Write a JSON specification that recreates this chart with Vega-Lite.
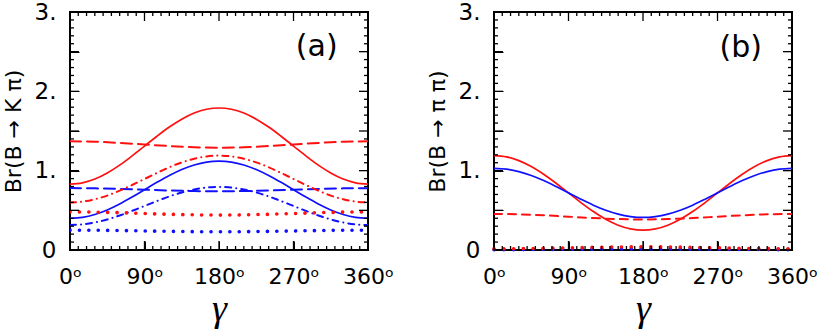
{
  "$schema": "https://vega.github.io/schema/vega-lite/v6.json",
  "padding": {"left": 1, "top": 0, "right": 0, "bottom": 0},
  "background": "white",
  "spacing": 30,
  "config": {
    "view": {"stroke": "black", "strokeWidth": 2},
    "axis": {"domain": false, "grid": false, "ticks": true, "tickColor": "#000000", "tickOpacity": 1, "tickWidth": 1, "labelColor": "black", "titleColor": "black", "labelOverlap": false},
    "text": {"font": "DejaVu Sans"}
  },
  "datasets": {
    "xmajor": [{"v":0},{"v":90},{"v":180},{"v":270},{"v":360}],
    "xminor": [{"v":10},{"v":20},{"v":30},{"v":40},{"v":50},{"v":60},{"v":70},{"v":80},{"v":100},{"v":110},{"v":120},{"v":130},{"v":140},{"v":150},{"v":160},{"v":170},{"v":190},{"v":200},{"v":210},{"v":220},{"v":230},{"v":240},{"v":250},{"v":260},{"v":280},{"v":290},{"v":300},{"v":310},{"v":320},{"v":330},{"v":340},{"v":350}],
    "ymajor": [{"v":0},{"v":0.5},{"v":1},{"v":1.5},{"v":2},{"v":2.5},{"v":3}],
    "yminor": [{"v":0.1},{"v":0.2},{"v":0.3},{"v":0.4},{"v":0.6},{"v":0.7},{"v":0.8},{"v":0.9},{"v":1.1},{"v":1.2},{"v":1.3},{"v":1.4},{"v":1.6},{"v":1.7},{"v":1.8},{"v":1.9},{"v":2.1},{"v":2.2},{"v":2.3},{"v":2.4},{"v":2.6},{"v":2.7},{"v":2.8},{"v":2.9}],
    "curves": [
      {"panel":"a","grp":"set1","curve":"c1","gamma":0,"br":0.83},{"panel":"a","grp":"set1","curve":"c1","gamma":15,"br":0.846},{"panel":"a","grp":"set1","curve":"c1","gamma":30,"br":0.894},{"panel":"a","grp":"set1","curve":"c1","gamma":45,"br":0.971},{"panel":"a","grp":"set1","curve":"c1","gamma":60,"br":1.07},{"panel":"a","grp":"set1","curve":"c1","gamma":75,"br":1.186},{"panel":"a","grp":"set1","curve":"c1","gamma":90,"br":1.31},{"panel":"a","grp":"set1","curve":"c1","gamma":105,"br":1.434},{"panel":"a","grp":"set1","curve":"c1","gamma":120,"br":1.55},{"panel":"a","grp":"set1","curve":"c1","gamma":135,"br":1.649},{"panel":"a","grp":"set1","curve":"c1","gamma":150,"br":1.726},{"panel":"a","grp":"set1","curve":"c1","gamma":165,"br":1.774},{"panel":"a","grp":"set1","curve":"c1","gamma":180,"br":1.79},{"panel":"a","grp":"set1","curve":"c1","gamma":195,"br":1.774},{"panel":"a","grp":"set1","curve":"c1","gamma":210,"br":1.726},{"panel":"a","grp":"set1","curve":"c1","gamma":225,"br":1.649},{"panel":"a","grp":"set1","curve":"c1","gamma":240,"br":1.55},{"panel":"a","grp":"set1","curve":"c1","gamma":255,"br":1.434},{"panel":"a","grp":"set1","curve":"c1","gamma":270,"br":1.31},{"panel":"a","grp":"set1","curve":"c1","gamma":285,"br":1.186},{"panel":"a","grp":"set1","curve":"c1","gamma":300,"br":1.07},{"panel":"a","grp":"set1","curve":"c1","gamma":315,"br":0.971},{"panel":"a","grp":"set1","curve":"c1","gamma":330,"br":0.894},{"panel":"a","grp":"set1","curve":"c1","gamma":345,"br":0.846},{"panel":"a","grp":"set1","curve":"c1","gamma":360,"br":0.83},

      {"panel":"a","grp":"set1","curve":"c3","gamma":0,"br":0.6},{"panel":"a","grp":"set1","curve":"c3","gamma":15,"br":0.61},{"panel":"a","grp":"set1","curve":"c3","gamma":30,"br":0.64},{"panel":"a","grp":"set1","curve":"c3","gamma":45,"br":0.686},{"panel":"a","grp":"set1","curve":"c3","gamma":60,"br":0.748},{"panel":"a","grp":"set1","curve":"c3","gamma":75,"br":0.819},{"panel":"a","grp":"set1","curve":"c3","gamma":90,"br":0.895},{"panel":"a","grp":"set1","curve":"c3","gamma":105,"br":0.971},{"panel":"a","grp":"set1","curve":"c3","gamma":120,"br":1.043},{"panel":"a","grp":"set1","curve":"c3","gamma":135,"br":1.104},{"panel":"a","grp":"set1","curve":"c3","gamma":150,"br":1.15},{"panel":"a","grp":"set1","curve":"c3","gamma":165,"br":1.18},{"panel":"a","grp":"set1","curve":"c3","gamma":180,"br":1.19},{"panel":"a","grp":"set1","curve":"c3","gamma":195,"br":1.18},{"panel":"a","grp":"set1","curve":"c3","gamma":210,"br":1.15},{"panel":"a","grp":"set1","curve":"c3","gamma":225,"br":1.104},{"panel":"a","grp":"set1","curve":"c3","gamma":240,"br":1.043},{"panel":"a","grp":"set1","curve":"c3","gamma":255,"br":0.971},{"panel":"a","grp":"set1","curve":"c3","gamma":270,"br":0.895},{"panel":"a","grp":"set1","curve":"c3","gamma":285,"br":0.819},{"panel":"a","grp":"set1","curve":"c3","gamma":300,"br":0.748},{"panel":"a","grp":"set1","curve":"c3","gamma":315,"br":0.686},{"panel":"a","grp":"set1","curve":"c3","gamma":330,"br":0.64},{"panel":"a","grp":"set1","curve":"c3","gamma":345,"br":0.61},{"panel":"a","grp":"set1","curve":"c3","gamma":360,"br":0.6},

      {"panel":"a","grp":"set2","curve":"c1","gamma":0,"br":0.4},{"panel":"a","grp":"set2","curve":"c1","gamma":15,"br":0.412},{"panel":"a","grp":"set2","curve":"c1","gamma":30,"br":0.448},{"panel":"a","grp":"set2","curve":"c1","gamma":45,"br":0.505},{"panel":"a","grp":"set2","curve":"c1","gamma":60,"br":0.58},{"panel":"a","grp":"set2","curve":"c1","gamma":75,"br":0.667},{"panel":"a","grp":"set2","curve":"c1","gamma":90,"br":0.76},{"panel":"a","grp":"set2","curve":"c1","gamma":105,"br":0.853},{"panel":"a","grp":"set2","curve":"c1","gamma":120,"br":0.94},{"panel":"a","grp":"set2","curve":"c1","gamma":135,"br":1.015},{"panel":"a","grp":"set2","curve":"c1","gamma":150,"br":1.072},{"panel":"a","grp":"set2","curve":"c1","gamma":165,"br":1.108},{"panel":"a","grp":"set2","curve":"c1","gamma":180,"br":1.12},{"panel":"a","grp":"set2","curve":"c1","gamma":195,"br":1.108},{"panel":"a","grp":"set2","curve":"c1","gamma":210,"br":1.072},{"panel":"a","grp":"set2","curve":"c1","gamma":225,"br":1.015},{"panel":"a","grp":"set2","curve":"c1","gamma":240,"br":0.94},{"panel":"a","grp":"set2","curve":"c1","gamma":255,"br":0.853},{"panel":"a","grp":"set2","curve":"c1","gamma":270,"br":0.76},{"panel":"a","grp":"set2","curve":"c1","gamma":285,"br":0.667},{"panel":"a","grp":"set2","curve":"c1","gamma":300,"br":0.58},{"panel":"a","grp":"set2","curve":"c1","gamma":315,"br":0.505},{"panel":"a","grp":"set2","curve":"c1","gamma":330,"br":0.448},{"panel":"a","grp":"set2","curve":"c1","gamma":345,"br":0.412},{"panel":"a","grp":"set2","curve":"c1","gamma":360,"br":0.4},

      {"panel":"a","grp":"set2","curve":"c3","gamma":0,"br":0.315},{"panel":"a","grp":"set2","curve":"c3","gamma":15,"br":0.323},{"panel":"a","grp":"set2","curve":"c3","gamma":30,"br":0.347},{"panel":"a","grp":"set2","curve":"c3","gamma":45,"br":0.385},{"panel":"a","grp":"set2","curve":"c3","gamma":60,"br":0.435},{"panel":"a","grp":"set2","curve":"c3","gamma":75,"br":0.493},{"panel":"a","grp":"set2","curve":"c3","gamma":90,"br":0.555},{"panel":"a","grp":"set2","curve":"c3","gamma":105,"br":0.617},{"panel":"a","grp":"set2","curve":"c3","gamma":120,"br":0.675},{"panel":"a","grp":"set2","curve":"c3","gamma":135,"br":0.725},{"panel":"a","grp":"set2","curve":"c3","gamma":150,"br":0.763},{"panel":"a","grp":"set2","curve":"c3","gamma":165,"br":0.787},{"panel":"a","grp":"set2","curve":"c3","gamma":180,"br":0.795},{"panel":"a","grp":"set2","curve":"c3","gamma":195,"br":0.787},{"panel":"a","grp":"set2","curve":"c3","gamma":210,"br":0.763},{"panel":"a","grp":"set2","curve":"c3","gamma":225,"br":0.725},{"panel":"a","grp":"set2","curve":"c3","gamma":240,"br":0.675},{"panel":"a","grp":"set2","curve":"c3","gamma":255,"br":0.617},{"panel":"a","grp":"set2","curve":"c3","gamma":270,"br":0.555},{"panel":"a","grp":"set2","curve":"c3","gamma":285,"br":0.493},{"panel":"a","grp":"set2","curve":"c3","gamma":300,"br":0.435},{"panel":"a","grp":"set2","curve":"c3","gamma":315,"br":0.385},{"panel":"a","grp":"set2","curve":"c3","gamma":330,"br":0.347},{"panel":"a","grp":"set2","curve":"c3","gamma":345,"br":0.323},{"panel":"a","grp":"set2","curve":"c3","gamma":360,"br":0.315},

      {"panel":"a","grp":"set1","curve":"c2","gamma":0,"br":1.37},{"panel":"a","grp":"set1","curve":"c2","gamma":30,"br":1.365},{"panel":"a","grp":"set1","curve":"c2","gamma":60,"br":1.35},{"panel":"a","grp":"set1","curve":"c2","gamma":90,"br":1.33},{"panel":"a","grp":"set1","curve":"c2","gamma":120,"br":1.31},{"panel":"a","grp":"set1","curve":"c2","gamma":150,"br":1.295},{"panel":"a","grp":"set1","curve":"c2","gamma":180,"br":1.29},{"panel":"a","grp":"set1","curve":"c2","gamma":210,"br":1.295},{"panel":"a","grp":"set1","curve":"c2","gamma":240,"br":1.31},{"panel":"a","grp":"set1","curve":"c2","gamma":270,"br":1.33},{"panel":"a","grp":"set1","curve":"c2","gamma":300,"br":1.35},{"panel":"a","grp":"set1","curve":"c2","gamma":330,"br":1.365},{"panel":"a","grp":"set1","curve":"c2","gamma":360,"br":1.37},

      {"panel":"a","grp":"set1","curve":"c4","gamma":0,"br":0.48},{"panel":"a","grp":"set1","curve":"c4","gamma":30,"br":0.477},{"panel":"a","grp":"set1","curve":"c4","gamma":60,"br":0.47},{"panel":"a","grp":"set1","curve":"c4","gamma":90,"br":0.46},{"panel":"a","grp":"set1","curve":"c4","gamma":120,"br":0.45},{"panel":"a","grp":"set1","curve":"c4","gamma":150,"br":0.443},{"panel":"a","grp":"set1","curve":"c4","gamma":180,"br":0.44},{"panel":"a","grp":"set1","curve":"c4","gamma":210,"br":0.443},{"panel":"a","grp":"set1","curve":"c4","gamma":240,"br":0.45},{"panel":"a","grp":"set1","curve":"c4","gamma":270,"br":0.46},{"panel":"a","grp":"set1","curve":"c4","gamma":300,"br":0.47},{"panel":"a","grp":"set1","curve":"c4","gamma":330,"br":0.477},{"panel":"a","grp":"set1","curve":"c4","gamma":360,"br":0.48},

      {"panel":"a","grp":"set2","curve":"c2","gamma":0,"br":0.78},{"panel":"a","grp":"set2","curve":"c2","gamma":30,"br":0.777},{"panel":"a","grp":"set2","curve":"c2","gamma":60,"br":0.77},{"panel":"a","grp":"set2","curve":"c2","gamma":90,"br":0.76},{"panel":"a","grp":"set2","curve":"c2","gamma":120,"br":0.75},{"panel":"a","grp":"set2","curve":"c2","gamma":150,"br":0.743},{"panel":"a","grp":"set2","curve":"c2","gamma":180,"br":0.74},{"panel":"a","grp":"set2","curve":"c2","gamma":210,"br":0.743},{"panel":"a","grp":"set2","curve":"c2","gamma":240,"br":0.75},{"panel":"a","grp":"set2","curve":"c2","gamma":270,"br":0.76},{"panel":"a","grp":"set2","curve":"c2","gamma":300,"br":0.77},{"panel":"a","grp":"set2","curve":"c2","gamma":330,"br":0.777},{"panel":"a","grp":"set2","curve":"c2","gamma":360,"br":0.78},

      {"panel":"a","grp":"set2","curve":"c4","gamma":0,"br":0.25},{"panel":"a","grp":"set2","curve":"c4","gamma":30,"br":0.249},{"panel":"a","grp":"set2","curve":"c4","gamma":60,"br":0.245},{"panel":"a","grp":"set2","curve":"c4","gamma":90,"br":0.24},{"panel":"a","grp":"set2","curve":"c4","gamma":120,"br":0.235},{"panel":"a","grp":"set2","curve":"c4","gamma":150,"br":0.231},{"panel":"a","grp":"set2","curve":"c4","gamma":180,"br":0.23},{"panel":"a","grp":"set2","curve":"c4","gamma":210,"br":0.231},{"panel":"a","grp":"set2","curve":"c4","gamma":240,"br":0.235},{"panel":"a","grp":"set2","curve":"c4","gamma":270,"br":0.24},{"panel":"a","grp":"set2","curve":"c4","gamma":300,"br":0.245},{"panel":"a","grp":"set2","curve":"c4","gamma":330,"br":0.249},{"panel":"a","grp":"set2","curve":"c4","gamma":360,"br":0.25},

      {"panel":"b","grp":"set1","curve":"c1","gamma":0,"br":1.19},{"panel":"b","grp":"set1","curve":"c1","gamma":15,"br":1.174},{"panel":"b","grp":"set1","curve":"c1","gamma":30,"br":1.127},{"panel":"b","grp":"set1","curve":"c1","gamma":45,"br":1.052},{"panel":"b","grp":"set1","curve":"c1","gamma":60,"br":0.955},{"panel":"b","grp":"set1","curve":"c1","gamma":75,"br":0.842},{"panel":"b","grp":"set1","curve":"c1","gamma":90,"br":0.72},{"panel":"b","grp":"set1","curve":"c1","gamma":105,"br":0.598},{"panel":"b","grp":"set1","curve":"c1","gamma":120,"br":0.485},{"panel":"b","grp":"set1","curve":"c1","gamma":135,"br":0.388},{"panel":"b","grp":"set1","curve":"c1","gamma":150,"br":0.313},{"panel":"b","grp":"set1","curve":"c1","gamma":165,"br":0.266},{"panel":"b","grp":"set1","curve":"c1","gamma":180,"br":0.25},{"panel":"b","grp":"set1","curve":"c1","gamma":195,"br":0.266},{"panel":"b","grp":"set1","curve":"c1","gamma":210,"br":0.313},{"panel":"b","grp":"set1","curve":"c1","gamma":225,"br":0.388},{"panel":"b","grp":"set1","curve":"c1","gamma":240,"br":0.485},{"panel":"b","grp":"set1","curve":"c1","gamma":255,"br":0.598},{"panel":"b","grp":"set1","curve":"c1","gamma":270,"br":0.72},{"panel":"b","grp":"set1","curve":"c1","gamma":285,"br":0.842},{"panel":"b","grp":"set1","curve":"c1","gamma":300,"br":0.955},{"panel":"b","grp":"set1","curve":"c1","gamma":315,"br":1.052},{"panel":"b","grp":"set1","curve":"c1","gamma":330,"br":1.127},{"panel":"b","grp":"set1","curve":"c1","gamma":345,"br":1.174},{"panel":"b","grp":"set1","curve":"c1","gamma":360,"br":1.19},

      {"panel":"b","grp":"set2","curve":"c1","gamma":0,"br":1.03},{"panel":"b","grp":"set2","curve":"c1","gamma":15,"br":1.019},{"panel":"b","grp":"set2","curve":"c1","gamma":30,"br":0.988},{"panel":"b","grp":"set2","curve":"c1","gamma":45,"br":0.939},{"panel":"b","grp":"set2","curve":"c1","gamma":60,"br":0.875},{"panel":"b","grp":"set2","curve":"c1","gamma":75,"br":0.8},{"panel":"b","grp":"set2","curve":"c1","gamma":90,"br":0.72},{"panel":"b","grp":"set2","curve":"c1","gamma":105,"br":0.64},{"panel":"b","grp":"set2","curve":"c1","gamma":120,"br":0.565},{"panel":"b","grp":"set2","curve":"c1","gamma":135,"br":0.501},{"panel":"b","grp":"set2","curve":"c1","gamma":150,"br":0.452},{"panel":"b","grp":"set2","curve":"c1","gamma":165,"br":0.421},{"panel":"b","grp":"set2","curve":"c1","gamma":180,"br":0.41},{"panel":"b","grp":"set2","curve":"c1","gamma":195,"br":0.421},{"panel":"b","grp":"set2","curve":"c1","gamma":210,"br":0.452},{"panel":"b","grp":"set2","curve":"c1","gamma":225,"br":0.501},{"panel":"b","grp":"set2","curve":"c1","gamma":240,"br":0.565},{"panel":"b","grp":"set2","curve":"c1","gamma":255,"br":0.64},{"panel":"b","grp":"set2","curve":"c1","gamma":270,"br":0.72},{"panel":"b","grp":"set2","curve":"c1","gamma":285,"br":0.8},{"panel":"b","grp":"set2","curve":"c1","gamma":300,"br":0.875},{"panel":"b","grp":"set2","curve":"c1","gamma":315,"br":0.939},{"panel":"b","grp":"set2","curve":"c1","gamma":330,"br":0.988},{"panel":"b","grp":"set2","curve":"c1","gamma":345,"br":1.019},{"panel":"b","grp":"set2","curve":"c1","gamma":360,"br":1.03},

      {"panel":"b","grp":"set1","curve":"c2","gamma":0,"br":0.455},{"panel":"b","grp":"set1","curve":"c2","gamma":30,"br":0.45},{"panel":"b","grp":"set1","curve":"c2","gamma":60,"br":0.4375},{"panel":"b","grp":"set1","curve":"c2","gamma":90,"br":0.42},{"panel":"b","grp":"set1","curve":"c2","gamma":120,"br":0.4025},{"panel":"b","grp":"set1","curve":"c2","gamma":150,"br":0.39},{"panel":"b","grp":"set1","curve":"c2","gamma":180,"br":0.385},{"panel":"b","grp":"set1","curve":"c2","gamma":210,"br":0.39},{"panel":"b","grp":"set1","curve":"c2","gamma":240,"br":0.4025},{"panel":"b","grp":"set1","curve":"c2","gamma":270,"br":0.42},{"panel":"b","grp":"set1","curve":"c2","gamma":300,"br":0.4375},{"panel":"b","grp":"set1","curve":"c2","gamma":330,"br":0.45},{"panel":"b","grp":"set1","curve":"c2","gamma":360,"br":0.455},

      {"panel":"b","grp":"set2","curve":"c4","gamma":0,"br":0.004},{"panel":"b","grp":"set2","curve":"c4","gamma":30,"br":0.005},{"panel":"b","grp":"set2","curve":"c4","gamma":60,"br":0.007},{"panel":"b","grp":"set2","curve":"c4","gamma":90,"br":0.009},{"panel":"b","grp":"set2","curve":"c4","gamma":120,"br":0.011},{"panel":"b","grp":"set2","curve":"c4","gamma":150,"br":0.013},{"panel":"b","grp":"set2","curve":"c4","gamma":180,"br":0.014},{"panel":"b","grp":"set2","curve":"c4","gamma":210,"br":0.013},{"panel":"b","grp":"set2","curve":"c4","gamma":240,"br":0.011},{"panel":"b","grp":"set2","curve":"c4","gamma":270,"br":0.009},{"panel":"b","grp":"set2","curve":"c4","gamma":300,"br":0.007},{"panel":"b","grp":"set2","curve":"c4","gamma":330,"br":0.005},{"panel":"b","grp":"set2","curve":"c4","gamma":360,"br":0.004},

      {"panel":"b","grp":"set1","curve":"c4","gamma":0,"br":0.015},{"panel":"b","grp":"set1","curve":"c4","gamma":30,"br":0.017},{"panel":"b","grp":"set1","curve":"c4","gamma":60,"br":0.021},{"panel":"b","grp":"set1","curve":"c4","gamma":90,"br":0.027},{"panel":"b","grp":"set1","curve":"c4","gamma":120,"br":0.033},{"panel":"b","grp":"set1","curve":"c4","gamma":150,"br":0.038},{"panel":"b","grp":"set1","curve":"c4","gamma":180,"br":0.04},{"panel":"b","grp":"set1","curve":"c4","gamma":210,"br":0.038},{"panel":"b","grp":"set1","curve":"c4","gamma":240,"br":0.033},{"panel":"b","grp":"set1","curve":"c4","gamma":270,"br":0.027},{"panel":"b","grp":"set1","curve":"c4","gamma":300,"br":0.021},{"panel":"b","grp":"set1","curve":"c4","gamma":330,"br":0.017},{"panel":"b","grp":"set1","curve":"c4","gamma":360,"br":0.015}
    ]
  },
  "hconcat": [
    {
      "width": 298, "height": 238,
      "layer": [
        {
          "data": {"name": "curves"},
          "transform": [{"filter": "datum.panel == 'a' && datum.curve == 'c1'"}],
          "mark": {"type": "line", "interpolate": "monotone", "strokeWidth": 1.7, "clip": true},
          "encoding": {
            "x": {"field": "gamma", "type": "quantitative", "scale": {"domain": [0, 360], "nice": false, "zero": false},
              "axis": {"orient": "bottom", "values": [0, 90, 180, 270, 360], "labelExpr": "datum.value + 'ᵒ'", "ticks": true, "tickColor": "#000000", "offset": -9, "tickSize": 9, "labelPadding": 16, "labelFlush": false, "labelFont": "DejaVu Sans", "labelFontSize": 22, "title": "γ", "titleFont": "Liberation Serif", "titleFontStyle": "italic", "titleFontWeight": "normal", "titleFontSize": 38, "titlePadding": 3}},
            "y": {"field": "br", "type": "quantitative", "scale": {"domain": [0, 3], "nice": false, "zero": false},
              "axis": {"orient": "left", "values": [0, 0.5, 1, 1.5, 2, 2.5, 3], "labelExpr": "datum.value == 0 ? '0' : (datum.value % 1 == 0 ? datum.value + '.' : '')", "ticks": true, "tickColor": "#000000", "offset": -9, "tickSize": 9, "labelPadding": 14, "labelFont": "DejaVu Sans", "labelFontSize": 23, "title": "Br(B → K π)", "titleFont": "DejaVu Sans", "titleFontWeight": "normal", "titleFontSize": 22, "titlePadding": 9}},
            "color": {"field": "grp", "type": "nominal", "scale": {"domain": ["set1", "set2"], "range": ["#ff1010", "#1010ff"]}, "legend": null}
          }
        },
        {
          "data": {"name": "curves"},
          "transform": [{"filter": "datum.panel == 'a' && datum.curve == 'c2'"}],
          "mark": {"type": "line", "interpolate": "monotone", "strokeWidth": 2, "strokeDash": [11, 6], "strokeCap": "round", "clip": true},
          "encoding": {
            "x": {"field": "gamma", "type": "quantitative", "axis": null},
            "y": {"field": "br", "type": "quantitative", "axis": null},
            "color": {"field": "grp", "type": "nominal", "legend": null}
          }
        },
        {
          "data": {"name": "curves"},
          "transform": [{"filter": "datum.panel == 'a' && datum.curve == 'c3'"}],
          "mark": {"type": "line", "interpolate": "monotone", "strokeWidth": 2, "strokeDash": [6, 5, 0.1, 5], "strokeCap": "round", "clip": true},
          "encoding": {
            "x": {"field": "gamma", "type": "quantitative", "axis": null},
            "y": {"field": "br", "type": "quantitative", "axis": null},
            "color": {"field": "grp", "type": "nominal", "legend": null}
          }
        },
        {
          "data": {"name": "curves"},
          "transform": [{"filter": "datum.panel == 'a' && datum.curve == 'c4'"}],
          "mark": {"type": "line", "interpolate": "monotone", "strokeWidth": 3.6, "strokeDash": [0.1, 9.3], "strokeCap": "round", "clip": true},
          "encoding": {
            "x": {"field": "gamma", "type": "quantitative", "axis": null},
            "y": {"field": "br", "type": "quantitative", "axis": null},
            "color": {"field": "grp", "type": "nominal", "legend": null}
          }
        },
        {"data": {"name": "xmajor"}, "mark": {"type": "tick", "orient": "vertical", "size": 9, "thickness": 1.3, "yOffset": -4.5, "color": "black", "opacity": 1},
         "encoding": {"x": {"field": "v", "type": "quantitative", "axis": null}, "y": {"datum": 0, "type": "quantitative", "axis": null}}},
        {"data": {"name": "xmajor"}, "mark": {"type": "tick", "orient": "vertical", "size": 9, "thickness": 1.3, "yOffset": 4.5, "color": "black", "opacity": 1},
         "encoding": {"x": {"field": "v", "type": "quantitative", "axis": null}, "y": {"datum": 3, "type": "quantitative", "axis": null}}},
        {"data": {"name": "xminor"}, "mark": {"type": "tick", "orient": "vertical", "size": 4, "thickness": 1.3, "yOffset": -2, "color": "black", "opacity": 1},
         "encoding": {"x": {"field": "v", "type": "quantitative", "axis": null}, "y": {"datum": 0, "type": "quantitative", "axis": null}}},
        {"data": {"name": "xminor"}, "mark": {"type": "tick", "orient": "vertical", "size": 4, "thickness": 1.3, "yOffset": 2, "color": "black", "opacity": 1},
         "encoding": {"x": {"field": "v", "type": "quantitative", "axis": null}, "y": {"datum": 3, "type": "quantitative", "axis": null}}},
        {"data": {"name": "ymajor"}, "mark": {"type": "tick", "orient": "horizontal", "size": 9, "thickness": 1.3, "xOffset": 4.5, "color": "black", "opacity": 1},
         "encoding": {"y": {"field": "v", "type": "quantitative", "axis": null}, "x": {"datum": 0, "type": "quantitative", "axis": null}}},
        {"data": {"name": "ymajor"}, "mark": {"type": "tick", "orient": "horizontal", "size": 9, "thickness": 1.3, "xOffset": -4.5, "color": "black", "opacity": 1},
         "encoding": {"y": {"field": "v", "type": "quantitative", "axis": null}, "x": {"datum": 360, "type": "quantitative", "axis": null}}},
        {"data": {"name": "yminor"}, "mark": {"type": "tick", "orient": "horizontal", "size": 4, "thickness": 1.3, "xOffset": 2, "color": "black", "opacity": 1},
         "encoding": {"y": {"field": "v", "type": "quantitative", "axis": null}, "x": {"datum": 0, "type": "quantitative", "axis": null}}},
        {"data": {"name": "yminor"}, "mark": {"type": "tick", "orient": "horizontal", "size": 4, "thickness": 1.3, "xOffset": -2, "color": "black", "opacity": 1},
         "encoding": {"y": {"field": "v", "type": "quantitative", "axis": null}, "x": {"datum": 360, "type": "quantitative", "axis": null}}},
        {
          "data": {"values": [{"panel": "a"}]},
          "mark": {"type": "text", "font": "DejaVu Sans", "fontSize": 30, "align": "center", "baseline": "middle", "color": "black"},
          "encoding": {
            "x": {"datum": 298, "type": "quantitative", "axis": null},
            "y": {"datum": 2.56, "type": "quantitative", "axis": null},
            "text": {"value": "(a)"}
          }
        }
      ],
      "resolve": {"axis": {"x": "independent", "y": "independent"}}
    },
    {
      "width": 298, "height": 238,
      "layer": [
        {
          "data": {"name": "curves"},
          "transform": [{"filter": "datum.panel == 'b' && datum.curve == 'c1'"}],
          "mark": {"type": "line", "interpolate": "monotone", "strokeWidth": 1.7, "clip": true},
          "encoding": {
            "x": {"field": "gamma", "type": "quantitative", "scale": {"domain": [0, 360], "nice": false, "zero": false},
              "axis": {"orient": "bottom", "values": [0, 90, 180, 270, 360], "labelExpr": "datum.value + 'ᵒ'", "ticks": true, "tickColor": "#000000", "offset": -9, "tickSize": 9, "labelPadding": 16, "labelFlush": false, "labelFont": "DejaVu Sans", "labelFontSize": 22, "title": "γ", "titleFont": "Liberation Serif", "titleFontStyle": "italic", "titleFontWeight": "normal", "titleFontSize": 38, "titlePadding": 3}},
            "y": {"field": "br", "type": "quantitative", "scale": {"domain": [0, 3], "nice": false, "zero": false},
              "axis": {"orient": "left", "values": [0, 0.5, 1, 1.5, 2, 2.5, 3], "labelExpr": "datum.value == 0 ? '0' : (datum.value % 1 == 0 ? datum.value + '.' : '')", "ticks": true, "tickColor": "#000000", "offset": -9, "tickSize": 9, "labelPadding": 14, "labelFont": "DejaVu Sans", "labelFontSize": 23, "title": "Br(B → π π)", "titleFont": "DejaVu Sans", "titleFontWeight": "normal", "titleFontSize": 22, "titlePadding": 9}},
            "color": {"field": "grp", "type": "nominal", "scale": {"domain": ["set1", "set2"], "range": ["#ff1010", "#1010ff"]}, "legend": null}
          }
        },
        {
          "data": {"name": "curves"},
          "transform": [{"filter": "datum.panel == 'b' && datum.curve == 'c2'"}],
          "mark": {"type": "line", "interpolate": "monotone", "strokeWidth": 2, "strokeDash": [8, 6], "strokeCap": "round", "clip": true},
          "encoding": {
            "x": {"field": "gamma", "type": "quantitative", "axis": null},
            "y": {"field": "br", "type": "quantitative", "axis": null},
            "color": {"field": "grp", "type": "nominal", "legend": null}
          }
        },
        {
          "data": {"name": "curves"},
          "transform": [{"filter": "datum.panel == 'b' && datum.curve == 'c4'"}],
          "mark": {"type": "line", "interpolate": "monotone", "strokeWidth": 3.6, "strokeDash": [0.1, 9.7], "strokeCap": "round", "clip": false},
          "encoding": {
            "x": {"field": "gamma", "type": "quantitative", "axis": null},
            "y": {"field": "br", "type": "quantitative", "axis": null},
            "color": {"field": "grp", "type": "nominal", "legend": null}
          }
        },
        {"data": {"name": "xmajor"}, "mark": {"type": "tick", "orient": "vertical", "size": 9, "thickness": 1.3, "yOffset": -4.5, "color": "black", "opacity": 1},
         "encoding": {"x": {"field": "v", "type": "quantitative", "axis": null}, "y": {"datum": 0, "type": "quantitative", "axis": null}}},
        {"data": {"name": "xmajor"}, "mark": {"type": "tick", "orient": "vertical", "size": 9, "thickness": 1.3, "yOffset": 4.5, "color": "black", "opacity": 1},
         "encoding": {"x": {"field": "v", "type": "quantitative", "axis": null}, "y": {"datum": 3, "type": "quantitative", "axis": null}}},
        {"data": {"name": "xminor"}, "mark": {"type": "tick", "orient": "vertical", "size": 4, "thickness": 1.3, "yOffset": -2, "color": "black", "opacity": 1},
         "encoding": {"x": {"field": "v", "type": "quantitative", "axis": null}, "y": {"datum": 0, "type": "quantitative", "axis": null}}},
        {"data": {"name": "xminor"}, "mark": {"type": "tick", "orient": "vertical", "size": 4, "thickness": 1.3, "yOffset": 2, "color": "black", "opacity": 1},
         "encoding": {"x": {"field": "v", "type": "quantitative", "axis": null}, "y": {"datum": 3, "type": "quantitative", "axis": null}}},
        {"data": {"name": "ymajor"}, "mark": {"type": "tick", "orient": "horizontal", "size": 9, "thickness": 1.3, "xOffset": 4.5, "color": "black", "opacity": 1},
         "encoding": {"y": {"field": "v", "type": "quantitative", "axis": null}, "x": {"datum": 0, "type": "quantitative", "axis": null}}},
        {"data": {"name": "ymajor"}, "mark": {"type": "tick", "orient": "horizontal", "size": 9, "thickness": 1.3, "xOffset": -4.5, "color": "black", "opacity": 1},
         "encoding": {"y": {"field": "v", "type": "quantitative", "axis": null}, "x": {"datum": 360, "type": "quantitative", "axis": null}}},
        {"data": {"name": "yminor"}, "mark": {"type": "tick", "orient": "horizontal", "size": 4, "thickness": 1.3, "xOffset": 2, "color": "black", "opacity": 1},
         "encoding": {"y": {"field": "v", "type": "quantitative", "axis": null}, "x": {"datum": 0, "type": "quantitative", "axis": null}}},
        {"data": {"name": "yminor"}, "mark": {"type": "tick", "orient": "horizontal", "size": 4, "thickness": 1.3, "xOffset": -2, "color": "black", "opacity": 1},
         "encoding": {"y": {"field": "v", "type": "quantitative", "axis": null}, "x": {"datum": 360, "type": "quantitative", "axis": null}}},
        {
          "data": {"values": [{"panel": "b"}]},
          "mark": {"type": "text", "font": "DejaVu Sans", "fontSize": 30, "align": "center", "baseline": "middle", "color": "black"},
          "encoding": {
            "x": {"datum": 298, "type": "quantitative", "axis": null},
            "y": {"datum": 2.54, "type": "quantitative", "axis": null},
            "text": {"value": "(b)"}
          }
        }
      ],
      "resolve": {"axis": {"x": "independent", "y": "independent"}}
    }
  ]
}
